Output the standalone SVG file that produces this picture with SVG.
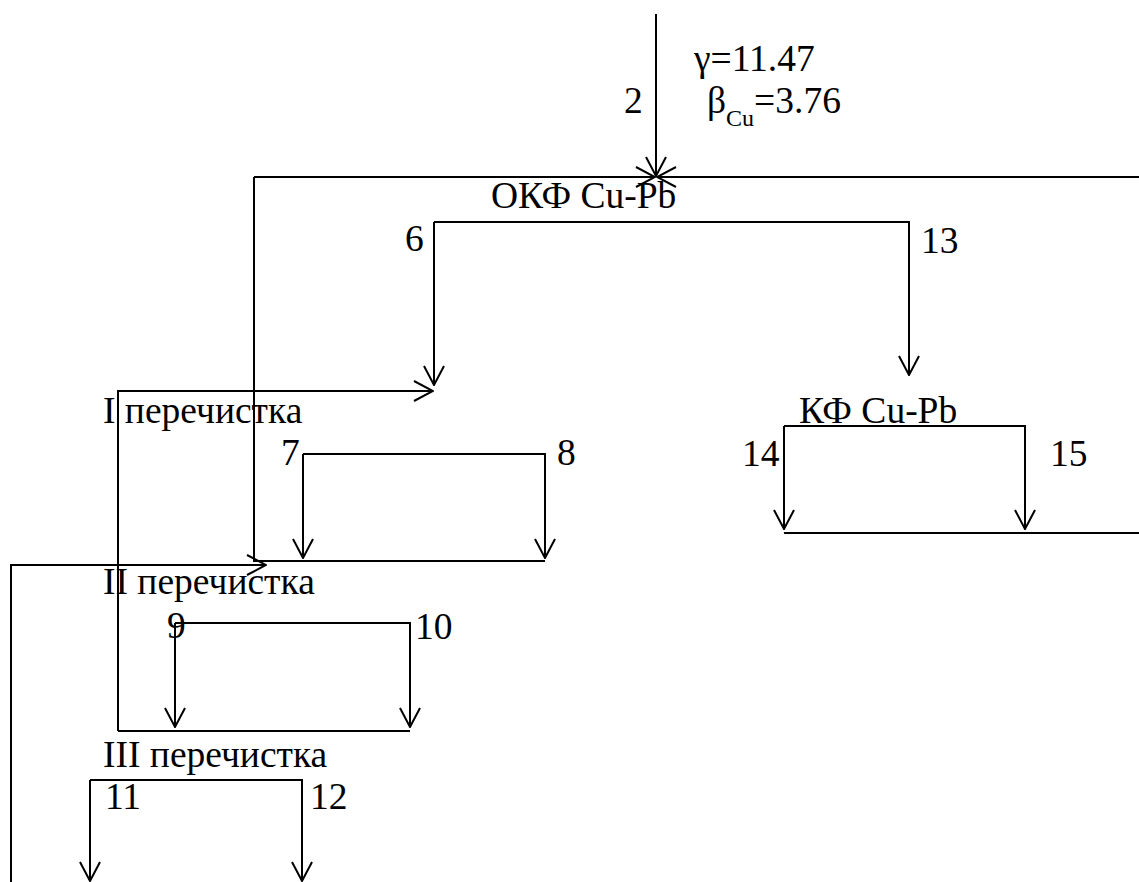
<svg xmlns="http://www.w3.org/2000/svg" width="1139" height="882" viewBox="0 0 1139 882">
<style>
text{font-family:'Liberation Serif','DejaVu Serif',serif;fill:#000}
.t{font-size:37.5px}
.s{font-size:24px}
.c{fill:none;stroke:#000;stroke-width:2}
.a{marker-end:url(#arr)}
</style>
<defs>
<marker id="arr" viewBox="-21 -11 22 22" refX="0" refY="0" markerWidth="22" markerHeight="22" markerUnits="userSpaceOnUse" orient="auto">
<path d="M-19,-10 L0,0 L-19,10" fill="none" stroke="#000" stroke-width="2"/>
</marker>
</defs>
<rect width="1139" height="882" fill="#fff"/>
<g id="connectors">
<path class="c a" d="M656,14 V176"/>
<path class="c a" d="M254,177 H655"/>
<path class="c a" d="M1139,177 H657"/>
<path class="c a" d="M434,222 H909 V375"/>
<path class="c a" d="M434,222 V385"/>
<path class="c a" d="M118,731 V391 H433"/>
<path class="c" d="M254,177 V561 H545"/>
<path class="c a" d="M303,454 V558"/>
<path class="c a" d="M303,454 H545 V558"/>
<path class="c a" d="M11,882 V565 H266"/>
<path class="c a" d="M175,623 V727"/>
<path class="c a" d="M175,623 H410 V727"/>
<path class="c" d="M118,731 H410"/>
<path class="c a" d="M90,780 V881"/>
<path class="c a" d="M90,780 H302 V881"/>
<path class="c a" d="M784,426 V529"/>
<path class="c a" d="M784,426 H1025 V529"/>
<path class="c" d="M784,533 H1139"/>
</g>
<g id="feed">
<text class="t" x="624" y="113">2</text>
<text class="t" x="694" y="71">γ=11.47</text>
<text class="t" x="707" y="113">β<tspan class="s" dy="13">Cu</tspan><tspan dy="-13">=3.76</tspan></text>
</g>
<g id="okf"><text class="t" x="491" y="208">ОКФ Cu-Pb</text></g>
<g id="labels">
<text class="t" x="405" y="251">6</text>
<text class="t" x="921" y="253">13</text>
<text class="t" x="281" y="465">7</text>
<text class="t" x="557" y="465">8</text>
<text class="t" x="167" y="638">9</text>
<text class="t" x="415" y="639">10</text>
<text class="t" x="105" y="809">11</text>
<text class="t" x="310" y="809">12</text>
<text class="t" x="742" y="466">14</text>
<text class="t" x="1050" y="466">15</text>
</g>
<g id="clean1"><text class="t" x="103" y="423">I перечистка</text></g>
<g id="clean2"><text class="t" x="103" y="594">II перечистка</text></g>
<g id="clean3"><text class="t" x="103" y="767">III перечистка</text></g>
<g id="kf"><text class="t" x="799" y="423">КФ Cu-Pb</text></g>
</svg>
